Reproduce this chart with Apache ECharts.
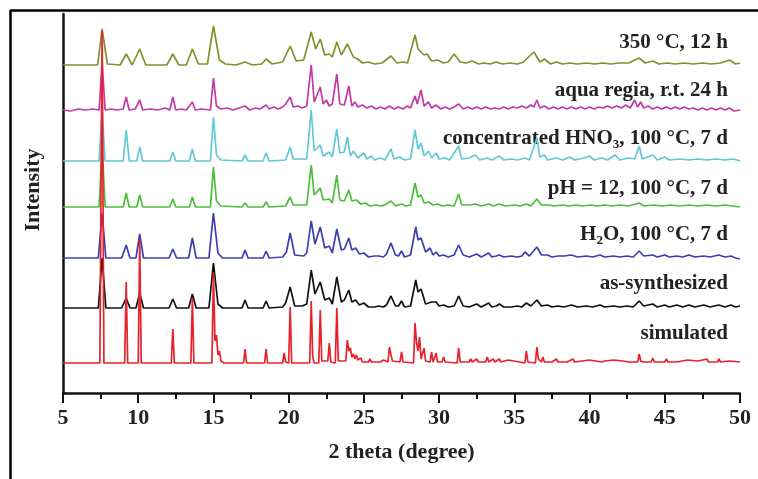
<!DOCTYPE html>
<html>
<head>
<meta charset="utf-8">
<script src="https://cdn.jsdelivr.net/npm/echarts@6/dist/echarts.min.js"></script>
<style>html,body{margin:0;padding:0;background:#fff}#c{width:758px;height:479px}</style>
</head>
<body>
<div id="c"></div>
<script>
// ---- data (2θ, intensity above each trace's own baseline) ----
const seriesNames = ['350 °C, 12 h','aqua regia, r.t. 24 h','concentrated HNO3, 100 °C, 7 d','pH = 12, 100 °C, 7 d','H2O, 100 °C, 7 d','as-synthesized','simulated'];
const xTicks = [5,10,15,20,25,30,35,40,45,50];
const offsets = [328, 283, 232, 186, 135, 85, 30]; // vertical stacking offsets

const olive = [[5,0],[7.3,0],[7.6,36],[7.95,1],[8.8,0],[9.2,11],[9.6,0],[9.7,0],[10.1,16],[10.5,0],[11.9,0],[12.3,11],[12.7,0],[13.2,0],[13.6,16],[14.0,1],[14.6,1],[15.0,39],[15.4,5],[15.8,1],[16.5,0],[17.1,3],[17.6,0],[18.2,1],[18.5,6],[18.9,1],[19.6,3],[20.1,19],[20.5,4],[21.0,5],[21.5,33],[21.8,16],[22.1,26],[22.4,10],[22.7,11],[22.9,8],[23.2,23],[23.5,10],[23.9,21],[24.3,8],[24.6,6],[24.9,2],[25.3,3],[25.7,1],[26.2,2],[26.8,9],[27.2,2],[27.6,3],[27.9,2],[28.4,30],[28.6,16],[28.8,13],[29.0,10],[29.2,11],[29.5,4],[29.9,5],[30.3,2],[30.6,3],[31.0,11],[31.4,3],[31.8,2],[32.2,4],[32.6,1],[33.0,2],[33.4,1],[33.8,3],[34.2,1],[34.7,2],[35.2,1],[35.6,3],[36.3,13],[36.7,3],[37.0,6],[37.4,1],[37.8,3],[38.2,1],[38.7,2],[39.2,1],[39.8,2],[40.3,1],[40.9,2],[41.4,1],[42.0,2],[42.6,2],[43.3,7],[43.7,2],[44.2,4],[44.6,1],[45.2,2],[45.7,1],[46.3,2],[46.9,1],[47.5,2],[48.1,1],[48.7,2],[49.3,5],[49.7,1],[50,2]];

const magenta = [[5,0],[5.5,-1],[6.0,1],[6.5,0],[7.0,1],[7.4,0],[7.6,48],[7.8,0],[8.2,1],[8.6,0],[9.0,1],[9.2,13],[9.4,0],[9.8,1],[10.1,10],[10.3,0],[10.8,1],[11.3,0],[11.8,2],[12.1,0],[12.3,13],[12.5,0],[12.9,1],[13.2,0],[13.6,8],[13.8,0],[14.2,1],[14.8,0],[15.0,32],[15.2,4],[15.5,1],[15.9,2],[16.3,0],[16.7,2],[17.1,4],[17.4,0],[17.8,2],[18.1,1],[18.5,5],[18.7,1],[19.0,3],[19.3,1],[19.6,3],[19.8,6],[20.1,13],[20.3,3],[20.6,4],[20.9,2],[21.2,4],[21.5,45],[21.7,8],[22.1,23],[22.3,6],[22.5,10],[22.7,4],[22.9,6],[23.2,36],[23.4,6],[23.7,5],[24.0,24],[24.2,4],[24.4,8],[24.6,3],[24.9,5],[25.2,2],[25.5,4],[25.8,1],[26.1,3],[26.4,1],[26.7,4],[27.0,1],[27.3,3],[27.6,1],[27.9,4],[28.1,2],[28.4,14],[28.55,6],[28.8,20],[29.0,4],[29.3,8],[29.5,2],[29.8,5],[30.1,1],[30.4,3],[30.7,1],[31.0,3],[31.3,6],[31.6,1],[31.9,3],[32.2,1],[32.5,3],[32.8,1],[33.1,3],[33.4,1],[33.7,2],[34.0,1],[34.3,3],[34.6,1],[34.9,3],[35.2,2],[35.5,4],[35.8,2],[36.1,5],[36.3,3],[36.5,10],[36.7,2],[37.0,4],[37.3,1],[37.6,3],[37.9,1],[38.2,3],[38.5,1],[38.8,3],[39.1,1],[39.4,3],[39.7,1],[40.0,3],[40.3,1],[40.6,3],[40.9,2],[41.2,4],[41.5,2],[41.8,4],[42.1,2],[42.4,5],[42.7,2],[43.0,10],[43.2,3],[43.4,8],[43.6,2],[43.9,4],[44.2,1],[44.5,3],[44.8,1],[45.1,3],[45.4,1],[45.7,3],[46.0,1],[46.3,3],[46.6,1],[46.9,2],[47.2,0],[47.5,2],[47.8,0],[48.1,2],[48.4,0],[48.7,2],[49.0,0],[49.3,2],[49.6,-1],[50,0]];

const cyan = [[5,0],[7.4,0],[7.6,50],[7.8,0],[9.0,0],[9.2,31],[9.4,0],[9.9,0],[10.1,14],[10.3,0],[12.1,0],[12.3,9],[12.5,0],[13.4,0],[13.6,12],[13.8,0],[14.8,0],[15.0,44],[15.2,6],[15.5,1],[16.9,0],[17.1,6],[17.3,0],[18.3,0],[18.5,8],[18.7,0],[19.8,1],[20.1,14],[20.3,2],[21.2,2],[21.5,51],[21.7,10],[22.1,16],[22.3,5],[22.7,9],[22.9,4],[23.2,32],[23.4,8],[23.7,9],[23.9,24],[24.1,5],[24.3,10],[24.6,3],[25.0,8],[25.2,2],[25.5,5],[25.7,1],[26.1,3],[26.4,1],[26.8,12],[27.0,2],[27.4,4],[27.7,1],[28.1,2],[28.4,31],[28.6,12],[28.8,18],[29.0,5],[29.3,10],[29.5,3],[29.8,8],[30.0,2],[30.4,3],[30.7,1],[31.3,15],[31.5,2],[32.0,3],[32.4,6],[32.7,1],[33.2,3],[33.5,1],[34.0,5],[34.3,1],[34.8,2],[35.2,1],[35.7,3],[36.0,1],[36.5,23],[36.7,4],[37.0,6],[37.2,1],[37.8,3],[38.2,1],[38.7,4],[39.0,1],[39.6,3],[40.0,5],[40.3,1],[40.8,3],[41.2,1],[41.7,6],[42.0,1],[42.6,3],[43.0,2],[43.3,15],[43.5,2],[44.2,6],[44.5,1],[45.0,4],[45.3,1],[46.0,2],[46.6,1],[47.2,2],[47.8,1],[48.4,2],[49.0,1],[49.6,2],[50,0]];

const green = [[5,0],[7.4,0],[7.6,62],[7.8,0],[9.0,0],[9.2,14],[9.4,0],[9.9,0],[10.1,12],[10.3,0],[12.1,0],[12.3,8],[12.5,0],[13.4,0],[13.6,10],[13.8,0],[14.8,0],[15.0,40],[15.2,6],[15.5,1],[16.9,0],[17.1,4],[17.3,0],[18.3,0],[18.5,5],[18.7,0],[19.8,1],[20.1,10],[20.3,2],[21.2,2],[21.5,42],[21.7,12],[22.1,19],[22.3,7],[22.7,8],[22.9,4],[23.2,32],[23.4,7],[23.7,6],[24.0,17],[24.2,6],[24.5,7],[24.8,3],[25.1,4],[25.4,1],[25.8,2],[26.2,1],[26.5,3],[26.8,6],[27.1,1],[27.5,3],[27.8,1],[28.1,2],[28.4,24],[28.6,10],[28.8,12],[29.0,4],[29.3,5],[29.6,2],[29.9,3],[30.2,1],[30.6,2],[31.0,1],[31.3,13],[31.5,2],[32.0,2],[32.4,3],[32.8,1],[33.3,3],[33.6,1],[34.0,3],[34.4,1],[35.0,2],[35.4,1],[35.8,3],[36.1,1],[36.5,8],[36.8,2],[37.3,2],[37.6,1],[38.2,2],[38.6,1],[39.1,2],[39.5,1],[40.1,2],[40.5,1],[41.0,2],[41.5,1],[42.0,2],[42.6,1],[43.3,4],[43.6,1],[44.3,2],[44.8,1],[45.4,2],[46.0,1],[46.6,2],[47.2,1],[47.8,2],[48.4,1],[49.0,2],[49.5,1],[50,0]];

const blue = [[5,0],[7.35,0],[7.6,45],[7.85,0],[8.9,0],[9.2,13],[9.45,0],[9.85,0],[10.1,24],[10.35,0],[12.05,0],[12.3,9],[12.55,0],[13.35,0],[13.6,20],[13.85,0],[14.7,0],[15.0,45],[15.3,5],[15.6,0],[16.9,0],[17.1,8],[17.3,0],[18.3,0],[18.5,7],[18.7,0],[19.6,1],[19.85,6],[20.1,25],[20.4,3],[21.0,2],[21.2,5],[21.5,37],[21.75,14],[22.1,31],[22.4,10],[22.7,12],[22.9,5],[23.2,29],[23.5,8],[23.7,9],[24.0,20],[24.2,8],[24.45,10],[24.7,4],[25.0,5],[25.3,1],[25.7,2],[26.0,2],[26.3,1],[26.5,4],[26.8,15],[27.1,3],[27.3,2],[27.5,7],[27.7,1],[28.1,3],[28.45,31],[28.6,18],[28.8,20],[29.1,6],[29.4,10],[29.6,3],[29.8,6],[30.0,2],[30.3,3],[30.6,1],[31.0,3],[31.3,13],[31.6,3],[32.0,1],[32.5,4],[32.8,1],[33.3,5],[33.5,1],[33.8,2],[34.0,3],[34.3,1],[34.8,2],[35.2,1],[35.5,2],[35.7,6],[36.0,2],[36.5,11],[36.8,3],[37.2,3],[37.5,1],[37.9,2],[38.3,2],[38.8,3],[39.2,1],[39.8,2],[40.2,1],[40.7,3],[41.0,1],[41.6,2],[42.0,1],[42.5,2],[42.9,1],[43.3,7],[43.6,2],[44.2,3],[44.5,1],[45.0,3],[45.3,1],[45.8,2],[46.2,1],[46.6,3],[47.0,1],[47.6,2],[48.0,1],[48.6,3],[49.0,1],[49.4,2],[49.7,0],[50,-1]];

const black = [[5,0],[7.35,0],[7.6,50],[7.85,0],[8.9,0],[9.2,10],[9.45,0],[9.85,0],[10.1,15],[10.35,0],[12.05,0],[12.3,9],[12.55,0],[13.35,0],[13.6,14],[13.85,0],[14.7,0],[15.0,45],[15.3,4],[15.6,0],[16.9,0],[17.1,8],[17.3,0],[18.3,0],[18.5,7],[18.7,0],[19.6,1],[19.8,5],[19.9,4],[20.1,21],[20.4,2],[20.9,2],[21.2,4],[21.5,38],[21.75,14],[22.1,26],[22.4,8],[22.7,10],[22.9,4],[23.2,31],[23.5,6],[23.7,8],[24.0,18],[24.2,6],[24.45,8],[24.7,3],[25.0,5],[25.3,1],[25.7,1],[26.0,2],[26.3,1],[26.5,3],[26.8,12],[27.1,2],[27.3,2],[27.5,7],[27.7,1],[28.1,2],[28.45,28],[28.6,16],[28.8,19],[29.1,4],[29.5,6],[29.8,6],[30.0,2],[30.3,3],[30.6,1],[31.0,2],[31.3,12],[31.6,2],[32.0,1],[32.5,4],[32.8,1],[33.3,5],[33.5,1],[33.8,2],[34.0,4],[34.3,1],[34.8,1],[35.2,2],[35.5,1],[35.8,5],[36.1,2],[36.5,8],[36.8,2],[37.2,3],[37.5,1],[37.9,2],[38.3,1],[38.8,3],[39.2,1],[39.8,2],[40.2,1],[40.7,3],[41.0,1],[41.6,2],[42.0,1],[42.5,2],[42.9,1],[43.3,7],[43.6,2],[44.2,4],[44.5,1],[45.0,3],[45.3,1],[45.8,3],[46.2,1],[46.6,3],[47.0,1],[47.6,3],[48.0,1],[48.6,3],[49.0,1],[49.4,3],[49.7,1],[50,2]];

const red = [[5,0],[7.45,0],[7.6,333],[7.72,0],[9.1,0],[9.2,81],[9.3,0],[10.0,0],[10.1,123],[10.2,0],[12.2,0],[12.3,34],[12.4,0],[13.5,0],[13.6,65],[13.7,0],[14.9,0],[15.0,90],[15.1,22],[15.2,28],[15.3,8],[15.4,12],[15.5,2],[15.7,0],[17.0,0],[17.1,14],[17.2,0],[18.4,0],[18.5,14],[18.6,0],[19.6,0],[19.7,10],[19.8,1],[20.0,0],[20.1,56],[20.2,0],[21.4,0],[21.5,62],[21.6,6],[21.7,0],[22.0,0],[22.1,53],[22.2,2],[22.6,2],[22.7,20],[22.8,1],[23.1,0],[23.2,55],[23.3,2],[23.8,2],[23.9,23],[24.0,12],[24.1,15],[24.2,6],[24.3,9],[24.4,4],[24.5,8],[24.6,3],[24.8,5],[24.9,1],[25.3,1],[25.4,4],[25.5,1],[26.1,1],[26.3,3],[26.4,1],[26.6,1],[26.7,16],[26.8,8],[26.9,2],[27.4,1],[27.5,11],[27.6,1],[28.3,0],[28.4,40],[28.5,20],[28.6,12],[28.7,26],[28.8,4],[28.9,3],[29.0,15],[29.1,2],[29.4,1],[29.5,11],[29.6,1],[29.8,10],[29.9,1],[30.2,1],[30.3,6],[30.4,1],[31.2,0],[31.3,15],[31.4,1],[32.0,1],[32.1,4],[32.2,1],[32.5,4],[32.6,1],[33.1,1],[33.2,6],[33.3,1],[33.6,4],[33.7,1],[34.0,4],[34.1,1],[34.6,3],[34.7,1],[35.7,0],[35.8,12],[35.9,1],[36.4,0],[36.5,16],[36.6,4],[36.8,1],[36.9,6],[37.0,1],[37.5,1],[37.6,3],[37.8,4],[37.9,1],[38.5,1],[38.9,4],[39.0,1],[39.5,2],[40.0,3],[40.1,1],[40.8,1],[41.0,2],[41.6,3],[41.7,1],[42.2,2],[42.6,1],[43.2,1],[43.3,9],[43.4,2],[43.6,1],[44.1,1],[44.2,5],[44.3,1],[45.0,1],[45.1,4],[45.2,1],[45.8,1],[46.5,3],[46.6,1],[47.2,2],[47.8,4],[47.9,1],[48.5,1],[48.6,4],[48.7,1],[49.3,2],[50,1]];

const traces = [olive, magenta, cyan, green, blue, black, red];
const colors = ['#848f2e', '#c23aa6', '#62c9d3', '#4dbd3c', '#3b3fb0', '#111111', '#e8222c'];

// ---- chart ----
const FONT = '"Liberation Serif","Times New Roman",serif';
const chart = echarts.init(document.getElementById('c'), null, {renderer: 'canvas'});

const series = traces.map((t, i) => ({
  name: seriesNames[i],
  type: 'line',
  showSymbol: false,
  animation: false,
  z: 2 + i,
  lineStyle: {color: colors[i], width: 1.7},
  itemStyle: {color: colors[i]},
  data: t.map(p => [p[0], p[1] + offsets[i]])
}));

const labelY = [44, 92, 140, 190, 236, 285, 335];
const labelTexts = [
  '350 °C, 12 h',
  'aqua regia, r.t. 24 h',
  'concentrated HNO{sub|3}, 100 °C, 7 d',
  'pH = 12, 100 °C, 7 d',
  'H{sub|2}O, 100 °C, 7 d',
  'as-synthesized',
  'simulated'
];

const graphics = labelTexts.map((txt, i) => ({
  type: 'text',
  right: 30,
  top: labelY[i] - 12,
  style: {
    text: txt,
    font: 'bold 21px ' + FONT,
    fill: '#222',
    rich: {
      sub: {fontSize: 13, fontWeight: 'bold', fontFamily: FONT, fill: '#222', verticalAlign: 'bottom', padding: [12, 0, 0, 0]}
    }
  }
}));
graphics.push(
  {type: 'line', shape: {x1: 10, y1: 10.5, x2: 758, y2: 10.5}, style: {stroke: '#000', lineWidth: 2.5}},
  {type: 'line', shape: {x1: 10.5, y1: 10, x2: 10.5, y2: 479}, style: {stroke: '#000', lineWidth: 2.5}},
  {type: 'text', x: 33, y: 190, rotation: Math.PI / 2,
   style: {text: 'Intensity', font: 'bold 22px ' + FONT, fill: '#222', align: 'center', verticalAlign: 'middle'}}
);

chart.setOption({
  animation: false,
  backgroundColor: '#fff',
  grid: {left: 63, right: 18, top: 14, bottom: 86, containLabel: false},
  xAxis: {
    type: 'value', min: 5, max: 50, interval: 5,
    name: '2 theta (degree)', nameLocation: 'middle', nameGap: 48,
    nameTextStyle: {fontFamily: FONT, fontWeight: 'bold', fontSize: 22, color: '#222'},
    axisLine: {show: true, onZero: false, lineStyle: {color: '#111', width: 2.5}},
    axisTick: {show: true, inside: false, length: 10, lineStyle: {color: '#111', width: 2}},
    minorTick: {show: true, splitNumber: 2, length: 6, lineStyle: {color: '#111', width: 2}},
    axisLabel: {margin: 14, fontFamily: FONT, fontWeight: 'bold', fontSize: 22, color: '#222',
      formatter: v => xTicks.includes(v) ? String(v) : ''},
    splitLine: {show: false}
  },
  yAxis: {
    type: 'value', min: 0, max: 379,
    axisLine: {show: true, lineStyle: {color: '#111', width: 2.5}},
    axisTick: {show: false}, axisLabel: {show: false}, splitLine: {show: false}
  },
  graphic: graphics,
  series: series
});
</script>
</body>
</html>
